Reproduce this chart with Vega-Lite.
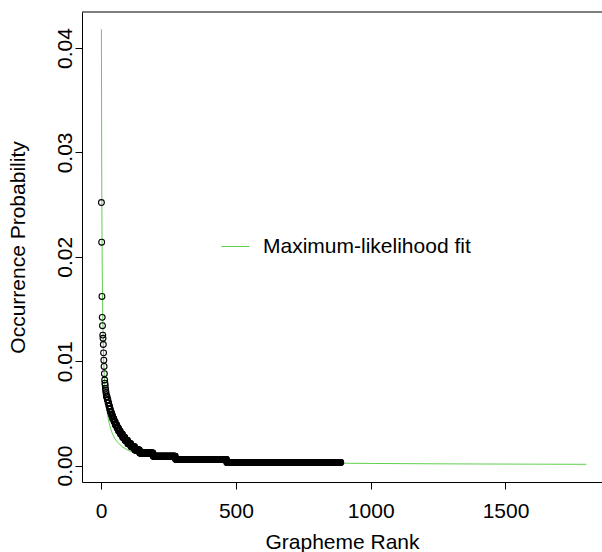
{
"$schema":"https://vega.github.io/schema/vega-lite/v6.json",
"width":520,"height":470,
"autosize":"none",
"padding":{"left":82,"top":12,"right":0,"bottom":70},
"background":"white",
"config":{"view":{"stroke":null},"font":"Liberation Sans",
"axis":{"grid":false,"domainColor":"black","domainWidth":1,"tickColor":"black","tickWidth":1,"tickSize":7,"labelColor":"black","labelFontSize":21,"titleFontSize":21,"titleFontWeight":"normal","titleColor":"black","labelFlush":false,"labelOverlap":false}},
"datasets":{
"fit":[{"r":1,"p":0.0418},{"r":2,"p":0.02957},{"r":3,"p":0.02313},{"r":4,"p":0.01912},{"r":5,"p":0.01636},{"r":6,"p":0.01434},{"r":8,"p":0.01157},{"r":10,"p":0.00975},{"r":12,"p":0.00845},{"r":15,"p":0.00708},{"r":20,"p":0.00561},{"r":25,"p":0.00468},{"r":30,"p":0.00403},{"r":40,"p":0.00317},{"r":50,"p":0.00263},{"r":60,"p":0.00226},{"r":80,"p":0.00177},{"r":100,"p":0.00147},{"r":130,"p":0.00118},{"r":160,"p":0.000986},{"r":200,"p":0.000815},{"r":250,"p":0.000674},{"r":300,"p":0.000577},{"r":400,"p":0.000452},{"r":500,"p":0.000374},{"r":600,"p":0.00032},{"r":800,"p":0.00025},{"r":1000,"p":0.000207},{"r":1200,"p":0.000177},{"r":1400,"p":0.000155},{"r":1600,"p":0.000139},{"r":1800,"p":0.000125}],
"pts":[{"r":1,"p":0.0252},{"r":2,"p":0.0214},{"r":3,"p":0.0162},{"r":4,"p":0.0142},{"r":5,"p":0.0134},{"r":6,"p":0.0125},{"r":7,"p":0.0122},{"r":8,"p":0.0116},{"r":9,"p":0.0108},{"r":10,"p":0.0101},{"r":11,"p":0.0095},{"r":12,"p":0.0088},{"r":13,"p":0.0082},{"r":14,"p":0.0079},{"r":15,"p":0.0077},{"r":16,"p":0.0074},{"r":17,"p":0.0072},{"r":18,"p":0.007},{"r":19,"p":0.0068},
{"r":20,"p":0.0066},{"r":21,"p":0.0066},{"r":22,"p":0.0066},
{"r":23,"p":0.0063},{"r":24,"p":0.0063},{"r":25,"p":0.0063},
{"r":26,"p":0.006},{"r":27,"p":0.006},{"r":28,"p":0.006},
{"r":29,"p":0.0057},{"r":30,"p":0.0057},{"r":31,"p":0.0057},
{"r":32,"p":0.0054},{"r":33,"p":0.0054},{"r":34,"p":0.0054},
{"r":35,"p":0.0051},{"r":36,"p":0.0051},{"r":37,"p":0.0051},{"r":38,"p":0.0051},
{"r":39,"p":0.0048},{"r":40,"p":0.0048},{"r":41,"p":0.0048},{"r":42,"p":0.0048},
{"r":43,"p":0.0045},{"r":44,"p":0.0045},{"r":45,"p":0.0045},{"r":46,"p":0.0045},{"r":47,"p":0.0045},
{"r":48,"p":0.0042},{"r":49,"p":0.0042},{"r":50,"p":0.0042},{"r":51,"p":0.0042},{"r":52,"p":0.0042},
{"r":53,"p":0.0039},{"r":54,"p":0.0039},{"r":55,"p":0.0039},{"r":56,"p":0.0039},{"r":57,"p":0.0039},{"r":58,"p":0.0039},
{"r":59,"p":0.0036},{"r":60,"p":0.0036},{"r":61,"p":0.0036},{"r":62,"p":0.0036},{"r":63,"p":0.0036},{"r":64,"p":0.0036},
{"r":65,"p":0.0033},{"r":66,"p":0.0033},{"r":67,"p":0.0033},{"r":68,"p":0.0033},{"r":69,"p":0.0033},{"r":70,"p":0.0033},{"r":71,"p":0.0033},
{"r":72,"p":0.003},{"r":73,"p":0.003},{"r":74,"p":0.003},{"r":75,"p":0.003},{"r":76,"p":0.003},{"r":77,"p":0.003},{"r":78,"p":0.003},{"r":79,"p":0.003},
{"r":80,"p":0.0027},{"r":81,"p":0.0027},{"r":82,"p":0.0027},{"r":83,"p":0.0027},{"r":84,"p":0.0027},{"r":85,"p":0.0027},{"r":86,"p":0.0027},{"r":87,"p":0.0027},{"r":88,"p":0.0027},
{"r":89,"p":0.0024},{"r":90,"p":0.0024},{"r":91,"p":0.0024},{"r":92,"p":0.0024},{"r":93,"p":0.0024},{"r":94,"p":0.0024},{"r":95,"p":0.0024},{"r":96,"p":0.0024},{"r":97,"p":0.0024},{"r":98,"p":0.0024},
{"r":99,"p":0.0021},{"r":100,"p":0.0021},{"r":101,"p":0.0021},{"r":102,"p":0.0021},{"r":103,"p":0.0021},{"r":104,"p":0.0021},{"r":105,"p":0.0021},{"r":106,"p":0.0021},{"r":107,"p":0.0021},{"r":108,"p":0.0021},{"r":109,"p":0.0021},{"r":110,"p":0.0021},
{"r":111,"p":0.0018},{"r":112,"p":0.0018},{"r":113,"p":0.0018},{"r":114,"p":0.0018},{"r":115,"p":0.0018},{"r":116,"p":0.0018},{"r":117,"p":0.0018},{"r":118,"p":0.0018},{"r":119,"p":0.0018},{"r":120,"p":0.0018},{"r":121,"p":0.0018},{"r":122,"p":0.0018},{"r":123,"p":0.0018},{"r":124,"p":0.0018},
{"r":125,"p":0.0015},{"r":126,"p":0.0015},{"r":127,"p":0.0015},{"r":128,"p":0.0015},{"r":129,"p":0.0015},{"r":130,"p":0.0015},{"r":131,"p":0.0015},{"r":132,"p":0.0015},{"r":133,"p":0.0015},{"r":134,"p":0.0015},{"r":135,"p":0.0015},{"r":136,"p":0.0015},{"r":137,"p":0.0015},{"r":138,"p":0.0015},{"r":139,"p":0.0015},{"r":140,"p":0.0015},{"r":141,"p":0.0015},{"r":142,"p":0.0015},
{"r":143,"p":0.0012},{"r":144,"p":0.0012},{"r":145,"p":0.0012},{"r":146,"p":0.0012},{"r":147,"p":0.0012},{"r":148,"p":0.0012},{"r":149,"p":0.0012},{"r":150,"p":0.0012},{"r":151,"p":0.0012},{"r":152,"p":0.0012},{"r":153,"p":0.0012},{"r":154,"p":0.0012},{"r":155,"p":0.0012},{"r":156,"p":0.0012},{"r":157,"p":0.0012},{"r":158,"p":0.0012},{"r":159,"p":0.0012},{"r":160,"p":0.0012},{"r":161,"p":0.0012},{"r":162,"p":0.0012},{"r":163,"p":0.0012},{"r":164,"p":0.0012},{"r":165,"p":0.0012},{"r":166,"p":0.0012},{"r":167,"p":0.0012},{"r":168,"p":0.0012},{"r":169,"p":0.0012},{"r":170,"p":0.0012},{"r":171,"p":0.0012},{"r":172,"p":0.0012},{"r":173,"p":0.0012},{"r":174,"p":0.0012},{"r":175,"p":0.0012},{"r":176,"p":0.0012},{"r":177,"p":0.0012},{"r":178,"p":0.0012},{"r":179,"p":0.0012},{"r":180,"p":0.0012},{"r":181,"p":0.0012},{"r":182,"p":0.0012},{"r":183,"p":0.0012},{"r":184,"p":0.0012},{"r":185,"p":0.0012},{"r":186,"p":0.0012},{"r":187,"p":0.0012},{"r":188,"p":0.0012},{"r":189,"p":0.0012},{"r":190,"p":0.0012},{"r":191,"p":0.0012},{"r":192,"p":0.0012},
{"r":193,"p":0.0009},{"r":194,"p":0.0009},{"r":195,"p":0.0009},{"r":196,"p":0.0009},{"r":197,"p":0.0009},{"r":198,"p":0.0009},{"r":199,"p":0.0009},{"r":200,"p":0.0009},{"r":201,"p":0.0009},{"r":202,"p":0.0009},{"r":203,"p":0.0009},{"r":204,"p":0.0009},{"r":205,"p":0.0009},{"r":206,"p":0.0009},{"r":207,"p":0.0009},{"r":208,"p":0.0009},{"r":209,"p":0.0009},{"r":210,"p":0.0009},{"r":211,"p":0.0009},{"r":212,"p":0.0009},{"r":213,"p":0.0009},{"r":214,"p":0.0009},{"r":215,"p":0.0009},{"r":216,"p":0.0009},{"r":217,"p":0.0009},{"r":218,"p":0.0009},{"r":219,"p":0.0009},{"r":220,"p":0.0009},{"r":221,"p":0.0009},{"r":222,"p":0.0009},{"r":223,"p":0.0009},{"r":224,"p":0.0009},{"r":225,"p":0.0009},{"r":226,"p":0.0009},{"r":227,"p":0.0009},{"r":228,"p":0.0009},{"r":229,"p":0.0009},{"r":230,"p":0.0009},{"r":231,"p":0.0009},{"r":232,"p":0.0009},{"r":233,"p":0.0009},{"r":234,"p":0.0009},{"r":235,"p":0.0009},{"r":236,"p":0.0009},{"r":237,"p":0.0009},{"r":238,"p":0.0009},{"r":239,"p":0.0009},{"r":240,"p":0.0009},{"r":241,"p":0.0009},{"r":242,"p":0.0009},{"r":243,"p":0.0009},{"r":244,"p":0.0009},{"r":245,"p":0.0009},{"r":246,"p":0.0009},{"r":247,"p":0.0009},{"r":248,"p":0.0009},{"r":249,"p":0.0009},{"r":250,"p":0.0009},{"r":251,"p":0.0009},{"r":252,"p":0.0009},{"r":253,"p":0.0009},{"r":254,"p":0.0009},{"r":255,"p":0.0009},{"r":256,"p":0.0009},{"r":257,"p":0.0009},{"r":258,"p":0.0009},{"r":259,"p":0.0009},{"r":260,"p":0.0009},{"r":261,"p":0.0009},{"r":262,"p":0.0009},{"r":263,"p":0.0009},{"r":264,"p":0.0009},{"r":265,"p":0.0009},{"r":266,"p":0.0009},{"r":267,"p":0.0009},{"r":268,"p":0.0009},{"r":269,"p":0.0009},{"r":270,"p":0.0009},{"r":271,"p":0.0009},{"r":272,"p":0.0009},{"r":273,"p":0.0009},{"r":274,"p":0.0009},{"r":275,"p":0.0009},
{"r":276,"p":0.0006},{"r":277,"p":0.0006},{"r":278,"p":0.0006},{"r":279,"p":0.0006},{"r":280,"p":0.0006},{"r":281,"p":0.0006},{"r":282,"p":0.0006},{"r":283,"p":0.0006},{"r":284,"p":0.0006},{"r":285,"p":0.0006},{"r":286,"p":0.0006},{"r":287,"p":0.0006},{"r":288,"p":0.0006},{"r":289,"p":0.0006},{"r":290,"p":0.0006},{"r":291,"p":0.0006},{"r":292,"p":0.0006},{"r":293,"p":0.0006},{"r":294,"p":0.0006},{"r":295,"p":0.0006},{"r":296,"p":0.0006},{"r":297,"p":0.0006},{"r":298,"p":0.0006},{"r":299,"p":0.0006},{"r":300,"p":0.0006},{"r":301,"p":0.0006},{"r":302,"p":0.0006},{"r":303,"p":0.0006},{"r":304,"p":0.0006},{"r":305,"p":0.0006},{"r":306,"p":0.0006},{"r":307,"p":0.0006},{"r":308,"p":0.0006},{"r":309,"p":0.0006},{"r":310,"p":0.0006},{"r":311,"p":0.0006},{"r":312,"p":0.0006},{"r":313,"p":0.0006},{"r":314,"p":0.0006},{"r":315,"p":0.0006},{"r":316,"p":0.0006},{"r":317,"p":0.0006},{"r":318,"p":0.0006},{"r":319,"p":0.0006},{"r":320,"p":0.0006},{"r":321,"p":0.0006},{"r":322,"p":0.0006},{"r":323,"p":0.0006},{"r":324,"p":0.0006},{"r":325,"p":0.0006},{"r":326,"p":0.0006},{"r":327,"p":0.0006},{"r":328,"p":0.0006},{"r":329,"p":0.0006},{"r":330,"p":0.0006},{"r":331,"p":0.0006},{"r":332,"p":0.0006},{"r":333,"p":0.0006},{"r":334,"p":0.0006},{"r":335,"p":0.0006},{"r":336,"p":0.0006},{"r":337,"p":0.0006},{"r":338,"p":0.0006},{"r":339,"p":0.0006},{"r":340,"p":0.0006},{"r":341,"p":0.0006},{"r":342,"p":0.0006},{"r":343,"p":0.0006},{"r":344,"p":0.0006},{"r":345,"p":0.0006},{"r":346,"p":0.0006},{"r":347,"p":0.0006},{"r":348,"p":0.0006},{"r":349,"p":0.0006},{"r":350,"p":0.0006},{"r":351,"p":0.0006},{"r":352,"p":0.0006},{"r":353,"p":0.0006},{"r":354,"p":0.0006},{"r":355,"p":0.0006},{"r":356,"p":0.0006},{"r":357,"p":0.0006},{"r":358,"p":0.0006},{"r":359,"p":0.0006},{"r":360,"p":0.0006},{"r":361,"p":0.0006},{"r":362,"p":0.0006},{"r":363,"p":0.0006},{"r":364,"p":0.0006},{"r":365,"p":0.0006},{"r":366,"p":0.0006},{"r":367,"p":0.0006},{"r":368,"p":0.0006},{"r":369,"p":0.0006},{"r":370,"p":0.0006},{"r":371,"p":0.0006},{"r":372,"p":0.0006},{"r":373,"p":0.0006},{"r":374,"p":0.0006},{"r":375,"p":0.0006},{"r":376,"p":0.0006},{"r":377,"p":0.0006},{"r":378,"p":0.0006},{"r":379,"p":0.0006},{"r":380,"p":0.0006},{"r":381,"p":0.0006},{"r":382,"p":0.0006},{"r":383,"p":0.0006},{"r":384,"p":0.0006},{"r":385,"p":0.0006},{"r":386,"p":0.0006},{"r":387,"p":0.0006},{"r":388,"p":0.0006},{"r":389,"p":0.0006},{"r":390,"p":0.0006},{"r":391,"p":0.0006},{"r":392,"p":0.0006},{"r":393,"p":0.0006},{"r":394,"p":0.0006},{"r":395,"p":0.0006},{"r":396,"p":0.0006},{"r":397,"p":0.0006},{"r":398,"p":0.0006},{"r":399,"p":0.0006},{"r":400,"p":0.0006},{"r":401,"p":0.0006},{"r":402,"p":0.0006},{"r":403,"p":0.0006},{"r":404,"p":0.0006},{"r":405,"p":0.0006},{"r":406,"p":0.0006},{"r":407,"p":0.0006},{"r":408,"p":0.0006},{"r":409,"p":0.0006},{"r":410,"p":0.0006},{"r":411,"p":0.0006},{"r":412,"p":0.0006},{"r":413,"p":0.0006},{"r":414,"p":0.0006},{"r":415,"p":0.0006},{"r":416,"p":0.0006},{"r":417,"p":0.0006},{"r":418,"p":0.0006},{"r":419,"p":0.0006},{"r":420,"p":0.0006},{"r":421,"p":0.0006},{"r":422,"p":0.0006},{"r":423,"p":0.0006},{"r":424,"p":0.0006},{"r":425,"p":0.0006},{"r":426,"p":0.0006},{"r":427,"p":0.0006},{"r":428,"p":0.0006},{"r":429,"p":0.0006},{"r":430,"p":0.0006},{"r":431,"p":0.0006},{"r":432,"p":0.0006},{"r":433,"p":0.0006},{"r":434,"p":0.0006},{"r":435,"p":0.0006},{"r":436,"p":0.0006},{"r":437,"p":0.0006},{"r":438,"p":0.0006},{"r":439,"p":0.0006},{"r":440,"p":0.0006},{"r":441,"p":0.0006},{"r":442,"p":0.0006},{"r":443,"p":0.0006},{"r":444,"p":0.0006},{"r":445,"p":0.0006},{"r":446,"p":0.0006},{"r":447,"p":0.0006},{"r":448,"p":0.0006},{"r":449,"p":0.0006},{"r":450,"p":0.0006},{"r":451,"p":0.0006},{"r":452,"p":0.0006},{"r":453,"p":0.0006},{"r":454,"p":0.0006},{"r":455,"p":0.0006},{"r":456,"p":0.0006},{"r":457,"p":0.0006},{"r":458,"p":0.0006},{"r":459,"p":0.0006},{"r":460,"p":0.0006},{"r":461,"p":0.0006},{"r":462,"p":0.0006},{"r":463,"p":0.0006},{"r":464,"p":0.0006},{"r":465,"p":0.0006},
{"r":466,"p":0.0003},{"r":467,"p":0.0003},{"r":468,"p":0.0003},{"r":469,"p":0.0003},{"r":470,"p":0.0003},{"r":471,"p":0.0003},{"r":472,"p":0.0003},{"r":473,"p":0.0003},{"r":474,"p":0.0003},{"r":475,"p":0.0003},{"r":476,"p":0.0003},{"r":477,"p":0.0003},{"r":478,"p":0.0003},{"r":479,"p":0.0003},{"r":480,"p":0.0003},{"r":481,"p":0.0003},{"r":482,"p":0.0003},{"r":483,"p":0.0003},{"r":484,"p":0.0003},{"r":485,"p":0.0003},{"r":486,"p":0.0003},{"r":487,"p":0.0003},{"r":488,"p":0.0003},{"r":489,"p":0.0003},{"r":490,"p":0.0003},{"r":491,"p":0.0003},{"r":492,"p":0.0003},{"r":493,"p":0.0003},{"r":494,"p":0.0003},{"r":495,"p":0.0003},{"r":496,"p":0.0003},{"r":497,"p":0.0003},{"r":498,"p":0.0003},{"r":499,"p":0.0003},{"r":500,"p":0.0003},{"r":501,"p":0.0003},{"r":502,"p":0.0003},{"r":503,"p":0.0003},{"r":504,"p":0.0003},{"r":505,"p":0.0003},{"r":506,"p":0.0003},{"r":507,"p":0.0003},{"r":508,"p":0.0003},{"r":509,"p":0.0003},{"r":510,"p":0.0003},{"r":511,"p":0.0003},{"r":512,"p":0.0003},{"r":513,"p":0.0003},{"r":514,"p":0.0003},{"r":515,"p":0.0003},{"r":516,"p":0.0003},{"r":517,"p":0.0003},{"r":518,"p":0.0003},{"r":519,"p":0.0003},{"r":520,"p":0.0003},{"r":521,"p":0.0003},{"r":522,"p":0.0003},{"r":523,"p":0.0003},{"r":524,"p":0.0003},{"r":525,"p":0.0003},{"r":526,"p":0.0003},{"r":527,"p":0.0003},{"r":528,"p":0.0003},{"r":529,"p":0.0003},{"r":530,"p":0.0003},{"r":531,"p":0.0003},{"r":532,"p":0.0003},{"r":533,"p":0.0003},{"r":534,"p":0.0003},{"r":535,"p":0.0003},{"r":536,"p":0.0003},{"r":537,"p":0.0003},{"r":538,"p":0.0003},{"r":539,"p":0.0003},{"r":540,"p":0.0003},{"r":541,"p":0.0003},{"r":542,"p":0.0003},{"r":543,"p":0.0003},{"r":544,"p":0.0003},{"r":545,"p":0.0003},{"r":546,"p":0.0003},{"r":547,"p":0.0003},{"r":548,"p":0.0003},{"r":549,"p":0.0003},{"r":550,"p":0.0003},{"r":551,"p":0.0003},{"r":552,"p":0.0003},{"r":553,"p":0.0003},{"r":554,"p":0.0003},{"r":555,"p":0.0003},{"r":556,"p":0.0003},{"r":557,"p":0.0003},{"r":558,"p":0.0003},{"r":559,"p":0.0003},{"r":560,"p":0.0003},{"r":561,"p":0.0003},{"r":562,"p":0.0003},{"r":563,"p":0.0003},{"r":564,"p":0.0003},{"r":565,"p":0.0003},{"r":566,"p":0.0003},{"r":567,"p":0.0003},{"r":568,"p":0.0003},{"r":569,"p":0.0003},{"r":570,"p":0.0003},{"r":571,"p":0.0003},{"r":572,"p":0.0003},{"r":573,"p":0.0003},{"r":574,"p":0.0003},{"r":575,"p":0.0003},{"r":576,"p":0.0003},{"r":577,"p":0.0003},{"r":578,"p":0.0003},{"r":579,"p":0.0003},{"r":580,"p":0.0003},{"r":581,"p":0.0003},{"r":582,"p":0.0003},{"r":583,"p":0.0003},{"r":584,"p":0.0003},{"r":585,"p":0.0003},{"r":586,"p":0.0003},{"r":587,"p":0.0003},{"r":588,"p":0.0003},{"r":589,"p":0.0003},{"r":590,"p":0.0003},{"r":591,"p":0.0003},{"r":592,"p":0.0003},{"r":593,"p":0.0003},{"r":594,"p":0.0003},{"r":595,"p":0.0003},{"r":596,"p":0.0003},{"r":597,"p":0.0003},{"r":598,"p":0.0003},{"r":599,"p":0.0003},{"r":600,"p":0.0003},{"r":601,"p":0.0003},{"r":602,"p":0.0003},{"r":603,"p":0.0003},{"r":604,"p":0.0003},{"r":605,"p":0.0003},{"r":606,"p":0.0003},{"r":607,"p":0.0003},{"r":608,"p":0.0003},{"r":609,"p":0.0003},{"r":610,"p":0.0003},{"r":611,"p":0.0003},{"r":612,"p":0.0003},{"r":613,"p":0.0003},{"r":614,"p":0.0003},{"r":615,"p":0.0003},{"r":616,"p":0.0003},{"r":617,"p":0.0003},{"r":618,"p":0.0003},{"r":619,"p":0.0003},{"r":620,"p":0.0003},{"r":621,"p":0.0003},{"r":622,"p":0.0003},{"r":623,"p":0.0003},{"r":624,"p":0.0003},{"r":625,"p":0.0003},{"r":626,"p":0.0003},{"r":627,"p":0.0003},{"r":628,"p":0.0003},{"r":629,"p":0.0003},{"r":630,"p":0.0003},{"r":631,"p":0.0003},{"r":632,"p":0.0003},{"r":633,"p":0.0003},{"r":634,"p":0.0003},{"r":635,"p":0.0003},{"r":636,"p":0.0003},{"r":637,"p":0.0003},{"r":638,"p":0.0003},{"r":639,"p":0.0003},{"r":640,"p":0.0003},{"r":641,"p":0.0003},{"r":642,"p":0.0003},{"r":643,"p":0.0003},{"r":644,"p":0.0003},{"r":645,"p":0.0003},{"r":646,"p":0.0003},{"r":647,"p":0.0003},{"r":648,"p":0.0003},{"r":649,"p":0.0003},{"r":650,"p":0.0003},{"r":651,"p":0.0003},{"r":652,"p":0.0003},{"r":653,"p":0.0003},{"r":654,"p":0.0003},{"r":655,"p":0.0003},{"r":656,"p":0.0003},{"r":657,"p":0.0003},{"r":658,"p":0.0003},{"r":659,"p":0.0003},{"r":660,"p":0.0003},{"r":661,"p":0.0003},{"r":662,"p":0.0003},{"r":663,"p":0.0003},{"r":664,"p":0.0003},{"r":665,"p":0.0003},{"r":666,"p":0.0003},{"r":667,"p":0.0003},{"r":668,"p":0.0003},{"r":669,"p":0.0003},{"r":670,"p":0.0003},{"r":671,"p":0.0003},{"r":672,"p":0.0003},{"r":673,"p":0.0003},{"r":674,"p":0.0003},{"r":675,"p":0.0003},{"r":676,"p":0.0003},{"r":677,"p":0.0003},{"r":678,"p":0.0003},{"r":679,"p":0.0003},{"r":680,"p":0.0003},{"r":681,"p":0.0003},{"r":682,"p":0.0003},{"r":683,"p":0.0003},{"r":684,"p":0.0003},{"r":685,"p":0.0003},{"r":686,"p":0.0003},{"r":687,"p":0.0003},{"r":688,"p":0.0003},{"r":689,"p":0.0003},{"r":690,"p":0.0003},{"r":691,"p":0.0003},{"r":692,"p":0.0003},{"r":693,"p":0.0003},{"r":694,"p":0.0003},{"r":695,"p":0.0003},{"r":696,"p":0.0003},{"r":697,"p":0.0003},{"r":698,"p":0.0003},{"r":699,"p":0.0003},{"r":700,"p":0.0003},{"r":701,"p":0.0003},{"r":702,"p":0.0003},{"r":703,"p":0.0003},{"r":704,"p":0.0003},{"r":705,"p":0.0003},{"r":706,"p":0.0003},{"r":707,"p":0.0003},{"r":708,"p":0.0003},{"r":709,"p":0.0003},{"r":710,"p":0.0003},{"r":711,"p":0.0003},{"r":712,"p":0.0003},{"r":713,"p":0.0003},{"r":714,"p":0.0003},{"r":715,"p":0.0003},{"r":716,"p":0.0003},{"r":717,"p":0.0003},{"r":718,"p":0.0003},{"r":719,"p":0.0003},{"r":720,"p":0.0003},{"r":721,"p":0.0003},{"r":722,"p":0.0003},{"r":723,"p":0.0003},{"r":724,"p":0.0003},{"r":725,"p":0.0003},{"r":726,"p":0.0003},{"r":727,"p":0.0003},{"r":728,"p":0.0003},{"r":729,"p":0.0003},{"r":730,"p":0.0003},{"r":731,"p":0.0003},{"r":732,"p":0.0003},{"r":733,"p":0.0003},{"r":734,"p":0.0003},{"r":735,"p":0.0003},{"r":736,"p":0.0003},{"r":737,"p":0.0003},{"r":738,"p":0.0003},{"r":739,"p":0.0003},{"r":740,"p":0.0003},{"r":741,"p":0.0003},{"r":742,"p":0.0003},{"r":743,"p":0.0003},{"r":744,"p":0.0003},{"r":745,"p":0.0003},{"r":746,"p":0.0003},{"r":747,"p":0.0003},{"r":748,"p":0.0003},{"r":749,"p":0.0003},{"r":750,"p":0.0003},{"r":751,"p":0.0003},{"r":752,"p":0.0003},{"r":753,"p":0.0003},{"r":754,"p":0.0003},{"r":755,"p":0.0003},{"r":756,"p":0.0003},{"r":757,"p":0.0003},{"r":758,"p":0.0003},{"r":759,"p":0.0003},{"r":760,"p":0.0003},{"r":761,"p":0.0003},{"r":762,"p":0.0003},{"r":763,"p":0.0003},{"r":764,"p":0.0003},{"r":765,"p":0.0003},{"r":766,"p":0.0003},{"r":767,"p":0.0003},{"r":768,"p":0.0003},{"r":769,"p":0.0003},{"r":770,"p":0.0003},{"r":771,"p":0.0003},{"r":772,"p":0.0003},{"r":773,"p":0.0003},{"r":774,"p":0.0003},{"r":775,"p":0.0003},{"r":776,"p":0.0003},{"r":777,"p":0.0003},{"r":778,"p":0.0003},{"r":779,"p":0.0003},{"r":780,"p":0.0003},{"r":781,"p":0.0003},{"r":782,"p":0.0003},{"r":783,"p":0.0003},{"r":784,"p":0.0003},{"r":785,"p":0.0003},{"r":786,"p":0.0003},{"r":787,"p":0.0003},{"r":788,"p":0.0003},{"r":789,"p":0.0003},{"r":790,"p":0.0003},{"r":791,"p":0.0003},{"r":792,"p":0.0003},{"r":793,"p":0.0003},{"r":794,"p":0.0003},{"r":795,"p":0.0003},{"r":796,"p":0.0003},{"r":797,"p":0.0003},{"r":798,"p":0.0003},{"r":799,"p":0.0003},{"r":800,"p":0.0003},{"r":801,"p":0.0003},{"r":802,"p":0.0003},{"r":803,"p":0.0003},{"r":804,"p":0.0003},{"r":805,"p":0.0003},{"r":806,"p":0.0003},{"r":807,"p":0.0003},{"r":808,"p":0.0003},{"r":809,"p":0.0003},{"r":810,"p":0.0003},{"r":811,"p":0.0003},{"r":812,"p":0.0003},{"r":813,"p":0.0003},{"r":814,"p":0.0003},{"r":815,"p":0.0003},{"r":816,"p":0.0003},{"r":817,"p":0.0003},{"r":818,"p":0.0003},{"r":819,"p":0.0003},{"r":820,"p":0.0003},{"r":821,"p":0.0003},{"r":822,"p":0.0003},{"r":823,"p":0.0003},{"r":824,"p":0.0003},{"r":825,"p":0.0003},{"r":826,"p":0.0003},{"r":827,"p":0.0003},{"r":828,"p":0.0003},{"r":829,"p":0.0003},{"r":830,"p":0.0003},{"r":831,"p":0.0003},{"r":832,"p":0.0003},{"r":833,"p":0.0003},{"r":834,"p":0.0003},{"r":835,"p":0.0003},{"r":836,"p":0.0003},{"r":837,"p":0.0003},{"r":838,"p":0.0003},{"r":839,"p":0.0003},{"r":840,"p":0.0003},{"r":841,"p":0.0003},{"r":842,"p":0.0003},{"r":843,"p":0.0003},{"r":844,"p":0.0003},{"r":845,"p":0.0003},{"r":846,"p":0.0003},{"r":847,"p":0.0003},{"r":848,"p":0.0003},{"r":849,"p":0.0003},{"r":850,"p":0.0003},{"r":851,"p":0.0003},{"r":852,"p":0.0003},{"r":853,"p":0.0003},{"r":854,"p":0.0003},{"r":855,"p":0.0003},{"r":856,"p":0.0003},{"r":857,"p":0.0003},{"r":858,"p":0.0003},{"r":859,"p":0.0003},{"r":860,"p":0.0003},{"r":861,"p":0.0003},{"r":862,"p":0.0003},{"r":863,"p":0.0003},{"r":864,"p":0.0003},{"r":865,"p":0.0003},{"r":866,"p":0.0003},{"r":867,"p":0.0003},{"r":868,"p":0.0003},{"r":869,"p":0.0003},{"r":870,"p":0.0003},{"r":871,"p":0.0003},{"r":872,"p":0.0003},{"r":873,"p":0.0003},{"r":874,"p":0.0003},{"r":875,"p":0.0003},{"r":876,"p":0.0003},{"r":877,"p":0.0003},{"r":878,"p":0.0003},{"r":879,"p":0.0003},{"r":880,"p":0.0003},{"r":881,"p":0.0003},{"r":882,"p":0.0003},{"r":883,"p":0.0003},{"r":884,"p":0.0003},{"r":885,"p":0.0003},{"r":886,"p":0.0003},{"r":887,"p":0.0003},{"r":888,"p":0.0003},{"r":889,"p":0.0003}]
},
"layer":[
{"data":{"name":"fit"},
 "mark":{"type":"line","strokeWidth":1,"clip":true},
 "encoding":{
  "x":{"field":"r","type":"quantitative","scale":{"domain":[-71,1858],"nice":false,"zero":false},
   "axis":{"values":[0,500,1000,1500],"format":"d","labelPadding":11,"title":"Grapheme Rank","titleBaseline":"alphabetic","titleY":66}},
  "y":{"field":"p","type":"quantitative","scale":{"domain":[-0.00157,0.04345],"nice":false,"zero":false},
   "axis":{"values":[0,0.01,0.02,0.03,0.04],"format":".2f","labelAngle":270,"labelAlign":"center","labelBaseline":"alphabetic","labelPadding":4,"title":"Occurrence Probability","titleAngle":270,"titleAlign":"center","titleBaseline":"alphabetic","titleX":-58,"titleY":235}},
  "color":{"datum":"Maximum-likelihood fit","scale":{"range":["#61D04F"]},
   "legend":{"title":null,"orient":"none","legendX":139,"legendY":220,"padding":0,"symbolType":"stroke","symbolSize":784,"symbolStrokeWidth":1,"labelFontSize":21,"labelColor":"black","labelOffset":13,"labelLimit":400}}
 }},
{"data":{"name":"pts"},
 "mark":{"type":"point","shape":"circle","filled":false,"stroke":"black","strokeWidth":1.1,"size":34,"opacity":1},
 "encoding":{
  "x":{"field":"r","type":"quantitative"},
  "y":{"field":"p","type":"quantitative"}
 }},
{"data":{"values":[{}]},
 "mark":{"type":"rule","color":"black","strokeWidth":1},
 "encoding":{"y":{"datum":0.04345}}}
]
}
